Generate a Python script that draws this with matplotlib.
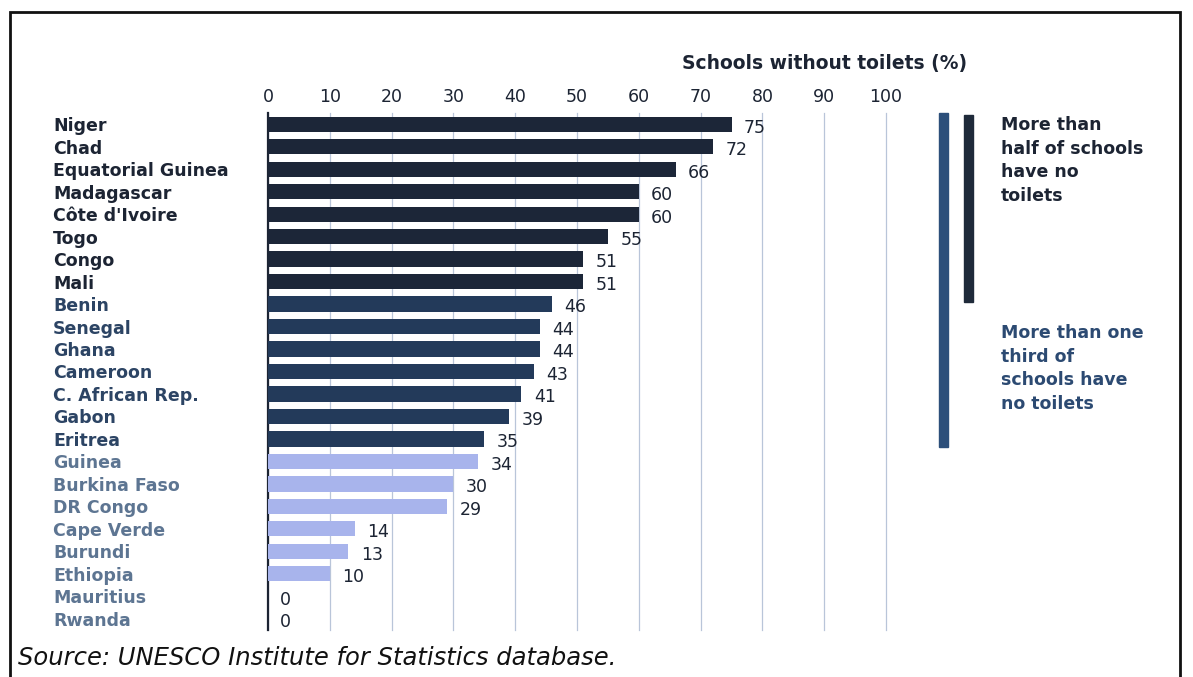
import matplotlib.pyplot as plt
from matplotlib.patches import Rectangle

countries = ['Niger', 'Chad', 'Equatorial Guinea', 'Madagascar', "Côte d'Ivoire",
             'Togo', 'Congo', 'Mali', 'Benin', 'Senegal', 'Ghana', 'Cameroon',
             'C. African Rep.', 'Gabon', 'Eritrea', 'Guinea', 'Burkina Faso',
             'DR Congo', 'Cape Verde', 'Burundi', 'Ethiopia', 'Mauritius', 'Rwanda']
values = [75, 72, 66, 60, 60, 55, 51, 51, 46, 44, 44, 43, 41, 39, 35,
          34, 30, 29, 14, 13, 10, 0, 0]
# group: 0 = more than half, 1 = more than one third, 2 = rest
groups = [0] * 8 + [1] * 7 + [2] * 8
ticks = list(range(0, 101, 10))

bar_colors = ['#1c2638', '#233a5a', '#a8b4ec']
label_colors = ['#1c2433', '#2c4464', '#5d7592']

plt.rcParams['font.family'] = ['DejaVu Sans']

fig = plt.figure(figsize=(11.93, 6.77), dpi=100)
ax = fig.add_axes([268 / 1193, 1 - 630 / 677, (886 - 268) / 1193, (630 - 113) / 677])

y = list(range(len(countries)))
ax.barh(y, values, height=0.68, color=[bar_colors[g] for g in groups], zorder=3)
for yi, v in zip(y, values):
    ax.text(v + 2.0, yi + 0.15, str(v), fontsize=12.5, color='#1c2433',
            va='center', ha='left', zorder=4)

ax.set_xlim(0, 100)
ax.set_ylim(len(countries) - 0.5, -0.5)
ax.xaxis.tick_top()
ax.set_xticks(ticks)
ax.tick_params(axis='x', length=0, pad=5, labelsize=12.5, labelcolor='#1c2433')
ax.set_yticks(y)
ax.set_yticklabels(countries)
ax.tick_params(axis='y', length=0, pad=0)
for lbl, g in zip(ax.get_yticklabels(), groups):
    lbl.set_color(label_colors[g])
    lbl.set_fontweight('bold')
    lbl.set_fontsize(12.5)
    lbl.set_horizontalalignment('left')
    lbl.set_x(-215 / 618)
ax.xaxis.grid(True, color='#b9c5d9', linewidth=0.9, zorder=0)
for gl in ax.get_xgridlines():
    gl.set_clip_on(False)
ax.set_axisbelow(True)
for s in ['top', 'right', 'bottom']:
    ax.spines[s].set_visible(False)
ax.spines['left'].set_color('#1c2433')
ax.spines['left'].set_linewidth(1.6)

fig.text(825 / 1193, 1 - 63 / 677, 'Schools without toilets (%)', fontsize=13.5,
         fontweight='bold', color='#1c2433', ha='center', va='center')

# bracket bars on the right
fig.patches.append(Rectangle((939 / 1193, 1 - 447 / 677), 9 / 1193, (447 - 113) / 677,
                             transform=fig.transFigure, color='#2c4f7a'))
fig.patches.append(Rectangle((964 / 1193, 1 - 302 / 677), 9 / 1193, (302 - 115) / 677,
                             transform=fig.transFigure, color='#1f2a3a'))
fig.text(1001 / 1193, 1 - 116 / 677, 'More than\nhalf of schools\nhave no\ntoilets',
         fontsize=12.5, fontweight='bold', color='#1c2433', ha='left', va='top',
         linespacing=1.4)
fig.text(1001 / 1193, 1 - 324 / 677, 'More than one\nthird of\nschools have\nno toilets',
         fontsize=12.5, fontweight='bold', color='#2c4a72', ha='left', va='top',
         linespacing=1.4)

fig.text(18 / 1193, 1 - 658 / 677, 'Source: UNESCO Institute for Statistics database.',
         fontsize=17.5, style='italic', color='#111111', ha='left', va='center')

fig.patches.append(Rectangle((10 / 1193, -0.01), 1170 / 1193, 1 - 12 / 677 + 0.01,
                             transform=fig.transFigure, fill=False,
                             edgecolor='#111111', linewidth=2))

fig.savefig('out.png', dpi=100)
